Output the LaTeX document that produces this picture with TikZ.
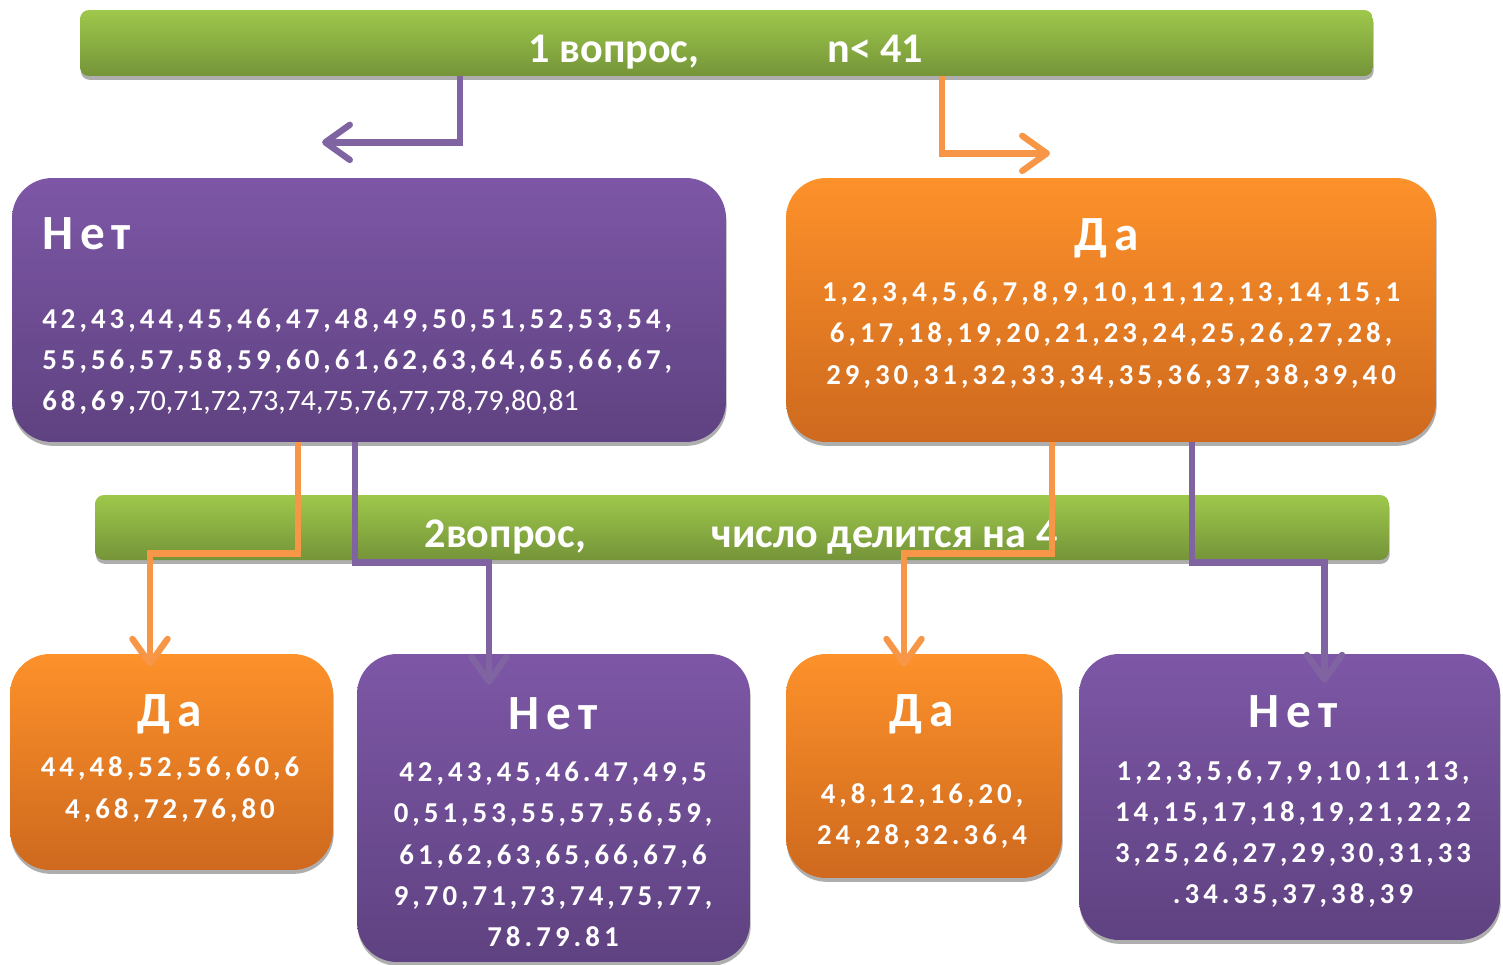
\documentclass[tikz,border=0pt]{standalone}
\usepackage{fontspec}
\setmainfont{Carlito}
\newfontfamily\spacedfont[LetterSpace=14]{Carlito}
\usetikzlibrary{arrows.meta, shadows}

\definecolor{barTop}{RGB}{158,200,75}
\definecolor{barBot}{RGB}{117,148,57}
\definecolor{noTop}{RGB}{125,87,166}
\definecolor{noBot}{RGB}{95,66,129}
\definecolor{yesTop}{RGB}{253,145,42}
\definecolor{yesBot}{RGB}{206,105,30}
\definecolor{noLine}{RGB}{128,100,162}
\definecolor{yesLine}{RGB}{247,150,70}

\begin{document}
\begin{tikzpicture}[
  x=0.02cm, y=-0.02cm,
  card/.style={rounded corners=0.8cm, inner sep=0pt,
    drop shadow={shadow xshift=0.4pt, shadow yshift=-2.2pt, fill=black!70, opacity=0.45}},
  nobox/.style={card, top color=noTop, bottom color=noBot},
  yesbox/.style={card, top color=yesTop, bottom color=yesBot},
  bar/.style={card, rounded corners=5pt, top color=barTop, bottom color=barBot},
  head/.style={text=white, anchor=base, inner sep=0pt,
    font=\spacedfont\bfseries\fontsize{28}{32}\selectfont},
  nums/.style={text=white, anchor=base, inner sep=0pt,
    font=\spacedfont\bfseries\fontsize{16.4}{20}\selectfont},
  question/.style={text=white, anchor=base, inner sep=0pt,
    font=\bfseries\fontsize{24}{28}\selectfont},
  link/.style={line width=3.6pt, -{Straight Barb[length=14pt, width=20pt, round]}},
  nolink/.style={link, draw=noLine},
  yeslink/.style={link, draw=yesLine}
]
\useasboundingbox (0,0) rectangle (1503,964);

% first question
\node[bar, minimum width=25.86cm, minimum height=1.32cm] (bar1) at (726.5,43) {};
\node[question] (q1) at (726,62) {1 вопрос,\hspace{2.56cm}n< 41};

\node[nobox, minimum width=14.28cm, minimum height=5.28cm] (no1) at (369,310) {};
\node[yesbox, minimum width=13cm, minimum height=5.28cm] (yes1) at (1111,310) {};

\node[head, anchor=base west] (no1-head) at (42,249) {Нет};
\node[nums, anchor=base west] (no1-l1) at (42,328) {42,43,44,45,46,47,48,49,50,51,52,53,54,};
\node[nums, anchor=base west] (no1-l2) at (42,369) {55,56,57,58,59,60,61,62,63,64,65,66,67,};
\node[nums, anchor=base west] (no1-l3) at (42,410) {68,69,{\normalfont\fontsize{16.9}{20}\selectfont 70,71,72,73,74,75,76,77,78,79,80,81}};

\node[head] (yes1-head) at (1107,250) {Да};
\node[nums] (yes1-l1) at (1111,301) {1,2,3,4,5,6,7,8,9,10,11,12,13,14,15,1};
\node[nums] (yes1-l2) at (1111,342.5) {6,17,18,19,20,21,23,24,25,26,27,28,};
\node[nums] (yes1-l3) at (1111,384) {29,30,31,32,33,34,35,36,37,38,39,40};

% second question
\node[bar, minimum width=25.88cm, minimum height=1.3cm] (bar2) at (742,527.5) {};
\node[question] (q2) at (741,547) {2вопрос,\hspace{2.52cm}число делится на 4};

\node[yesbox, minimum width=6.46cm, minimum height=4.32cm] (yes2) at (171.5,762) {};
\node[nobox, minimum width=7.86cm, minimum height=6.16cm] (no2) at (553.5,808) {};
\node[yesbox, minimum width=5.52cm, minimum height=4.48cm] (yes3) at (924,766) {};
\node[nobox, minimum width=8.42cm, minimum height=5.72cm] (no3) at (1289.5,797) {};

\node[head] (yes2-head) at (170,726) {Да};
\node[nums] (yes2-l1) at (170,776) {44,48,52,56,60,6};
\node[nums] (yes2-l2) at (170,818) {4,68,72,76,80};

\node[head] (no2-head) at (553,729) {Нет};
\node[nums] (no2-l1) at (553,781) {42,43,45,46.47,49,5};
\node[nums] (no2-l2) at (553,822) {0,51,53,55,57,56,59,};
\node[nums] (no2-l3) at (553,864) {61,62,63,65,66,67,6};
\node[nums] (no2-l4) at (553,905) {9,70,71,73,74,75,77,};
\node[nums] (no2-l5) at (553,946) {78.79.81};

\node[head] (yes3-head) at (922,726) {Да};
\node[nums] (yes3-l1) at (922,803) {4,8,12,16,20,};
\node[nums] (yes3-l2) at (922,844) {24,28,32.36,4};

\node[head] (no3-head) at (1293,727) {Нет};
\node[nums] (no3-l1) at (1293,780) {1,2,3,5,6,7,9,10,11,13,};
\node[nums] (no3-l2) at (1293,821) {14,15,17,18,19,21,22,2};
\node[nums] (no3-l3) at (1293,862) {3,25,26,27,29,30,31,33};
\node[nums] (no3-l4) at (1293,903) {.34.35,37,38,39};

% connectors
\draw[nolink] ([xshift=-5.33cm]bar1.south) |- ++(-138,66);
\draw[yeslink] ([xshift=4.31cm]bar1.south) |- ++(108,77);
\draw[yeslink] ([xshift=-1.42cm]no1.south) -- ++(0,111) -| ([xshift=-0.43cm,yshift=-0.26cm]yes2.north);
\draw[nolink] ([xshift=-0.28cm]no1.south) -- ++(0,120) -| ([xshift=-1.29cm,yshift=-0.62cm]no2.north);
\draw[yeslink] ([xshift=-1.18cm]yes1.south) -- ++(0,111) -| ([xshift=-0.4cm,yshift=-0.26cm]yes3.north);
\draw[nolink] ([xshift=1.62cm]yes1.south) -- ++(0,120) -| ([xshift=0.7cm,yshift=-0.58cm]no3.north);
\end{tikzpicture}
\end{document}
